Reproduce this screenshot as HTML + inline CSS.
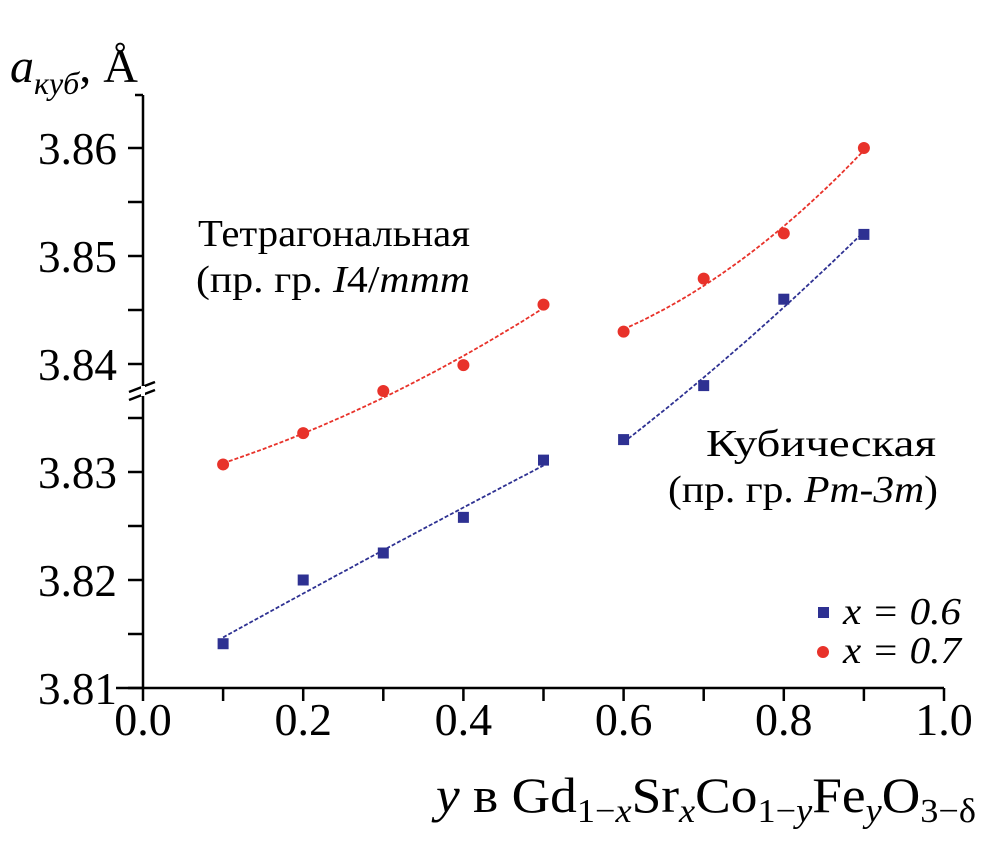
<!DOCTYPE html>
<html><head><meta charset="utf-8"><style>
html,body{margin:0;padding:0;background:#fff;}
svg, svg text{font-family:"Liberation Serif","Times New Roman",serif;}
</style></head><body>
<svg id="chart" width="993" height="839" viewBox="0 0 993 839" xmlns="http://www.w3.org/2000/svg" font-family="Liberation Serif, serif">
<g id="axes" stroke="#000" stroke-width="2.5" fill="none"></g>
<g id="labels" font-size="46" fill="#000"></g>
<g id="fits"></g>
<g id="marks"></g>
<text x="10" y="82" font-size="48" font-style="italic">a<tspan font-size="32" dy="12">куб</tspan><tspan font-style="normal" dy="-12">, Å</tspan></text>
<text x="436" y="812" font-size="50" textLength="540" lengthAdjust="spacingAndGlyphs"><tspan font-style="italic">y</tspan> в Gd<tspan font-size="34" dy="10">1−<tspan font-style="italic">x</tspan></tspan><tspan dy="-10">Sr</tspan><tspan font-size="34" dy="10" font-style="italic">x</tspan><tspan dy="-10">Co</tspan><tspan font-size="34" dy="10">1−<tspan font-style="italic">y</tspan></tspan><tspan dy="-10">Fe</tspan><tspan font-size="34" dy="10" font-style="italic">y</tspan><tspan dy="-10">O</tspan><tspan font-size="34" dy="10">3−δ</tspan></text>
<text x="198" y="246" font-size="38" textLength="272" lengthAdjust="spacingAndGlyphs">Тетрагональная</text>
<text x="196" y="292" font-size="38" textLength="274" lengthAdjust="spacingAndGlyphs">(пр. гр. <tspan font-style="italic">I</tspan>4/<tspan font-style="italic">mmm</tspan></text>
<text x="706" y="456" font-size="38" textLength="230" lengthAdjust="spacingAndGlyphs">Кубическая</text>
<text x="668" y="502" font-size="38" textLength="270" lengthAdjust="spacingAndGlyphs">(пр. гр. <tspan font-style="italic">Pm-3m</tspan>)</text>
<g>
<rect x="818" y="607" width="11" height="11" fill="#2e3192"/>
<text x="843" y="624" font-size="38" font-style="italic" textLength="118" lengthAdjust="spacingAndGlyphs">x = 0.6</text>
<circle cx="823" cy="652" r="6" fill="#e8322a"/>
<text x="843" y="663" font-size="38" font-style="italic" textLength="118" lengthAdjust="spacingAndGlyphs">x = 0.7</text>
</g>
</svg>
<script>
const yValuesX = [0.1,0.2,0.3,0.4,0.5,0.6,0.7,0.8,0.9];
const seriesX06 = [3.8141,3.8200,3.8225,3.8258,3.8311,3.8330,3.8380,3.8460,3.8520];
const seriesX07 = [3.8307,3.8336,3.8375,3.8399,3.8455,3.8430,3.8479,3.8521,3.8600];
const xTicks = [0.0,0.2,0.4,0.6,0.8,1.0];
const xTickLabels = ["0.0","0.2","0.4","0.6","0.8","1.0"];
const yTicks = [3.81,3.82,3.83,3.84,3.85,3.86];
const yTickLabels = ["3.81","3.82","3.83","3.84","3.85","3.86"];

const NS="http://www.w3.org/2000/svg";
const X0=143,X1=944,Y0=688,PPU=10800;
function sx(v){return X0+(v-0)*(X1-X0);}
function sy(v){return Y0-(v-3.81)*PPU;}
function mk(tag,attrs,parent){const e=document.createElementNS(NS,tag);for(const k in attrs)e.setAttribute(k,attrs[k]);parent.appendChild(e);return e;}
const axes=document.getElementById('axes'),labels=document.getElementById('labels'),fits=document.getElementById('fits'),marks=document.getElementById('marks');

let el=mk('line',{x1:X0,y1:95,x2:X0,y2:Y0},axes);


el=mk('line',{x1:116,y1:Y0,x2:X1,y2:Y0},axes);


el=mk('line',{x1:X0,y1:95,x2:X0-8,y2:95},axes);


el=mk('path',{d:`M${X0-14} ${392} L${X0+12} ${382} M${X0-14} ${400} L${X0+12} ${390}`,'stroke-width':2.5},axes);


el=mk('line',{x1:X0,y1:386,x2:X0,y2:396,stroke:'#fff','stroke-width':4},axes);



for(let i=0;i<=10;i++){
  const v=3.81+i*0.005;
  el=mk('line',{x1:X0-15,y1:sy(v),x2:X0,y2:sy(v)},axes);
  
  
}
yTicks.forEach((v,i)=>{
  const t=mk('text',{x:X0-26,y:sy(v)+16,'text-anchor':'end',textLength:79,lengthAdjust:'spacingAndGlyphs'},labels);
  t.textContent=yTickLabels[i];
  
  
});
for(let i=0;i<=10;i++){
  const v=i*0.1;
  el=mk('line',{x1:sx(v),y1:Y0,x2:sx(v),y2:Y0+13},axes);
  
  
}
xTicks.forEach((v,i)=>{
  const t=mk('text',{x:sx(v),y:Y0+47,'text-anchor':'middle'},labels);
  t.textContent=xTickLabels[i];
  
  
});

function quadFit(xs,ys){
  const n=xs.length;let S=[0,0,0,0,0],T=[0,0,0];
  for(let i=0;i<n;i++){let p=1;for(let k=0;k<5;k++){S[k]+=p;if(k<3)T[k]+=p*ys[i];p*=xs[i];}}
  const A=[[S[0],S[1],S[2],T[0]],[S[1],S[2],S[3],T[1]],[S[2],S[3],S[4],T[2]]];
  for(let c=0;c<3;c++){for(let r=c+1;r<3;r++){const f=A[r][c]/A[c][c];for(let k=c;k<4;k++)A[r][k]-=f*A[c][k];}}
  const b=[0,0,0];for(let r=2;r>=0;r--){let s=A[r][3];for(let k=r+1;k<3;k++)s-=A[r][k]*b[k];b[r]=s/A[r][r];}
  return x=>b[0]+b[1]*x+b[2]*x*x;
}
function drawFit(series,color,name){
  [[0,5],[5,9]].forEach(([a,b])=>{
    const xs=yValuesX.slice(a,b),ys=series.slice(a,b);
    const f=quadFit(xs,ys);
    let d='';
    for(let j=0;j<=40;j++){const x=xs[0]+(xs[xs.length-1]-xs[0])*j/40;d+=(j?'L':'M')+sx(x).toFixed(1)+' '+sy(f(x)).toFixed(1);}
    const p=mk('path',{d:d,stroke:color,'stroke-width':1.8,fill:'none','stroke-dasharray':'4 2'},fits);
    
    
  });
}
drawFit(seriesX06,'#2e3192','fit-line-x06');
drawFit(seriesX07,'#e8322a','fit-line-x07');

yValuesX.forEach((x,i)=>{
  const r=mk('rect',{x:sx(x)-5.5,y:sy(seriesX06[i])-5.5,width:11,height:11,fill:'#2e3192'},marks);
  
  
  const c=mk('circle',{cx:sx(x),cy:sy(seriesX07[i]),r:6,fill:'#e8322a'},marks);
  
  
});
</script>
</body></html>
